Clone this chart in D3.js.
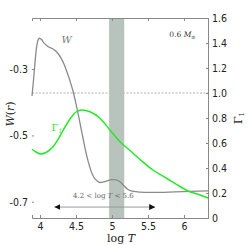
<!DOCTYPE html>
<html>
<head>
<meta charset="utf-8">
<script src="https://cdn.jsdelivr.net/npm/d3@7"></script>
<style>
  body { margin: 0; background: #fff; }
  svg text { font-family: "DejaVu Sans Condensed", "DejaVu Sans", sans-serif; }
  .serif { font-family: "DejaVu Serif", "Liberation Serif", serif !important; }
</style>
</head>
<body>
<div id="chart"></div>
<script>
// W(r) curve
const logT = [3.889, 3.910, 3.931, 3.954, 3.972, 3.993, 4.021, 4.056, 4.111, 4.167,
  4.208, 4.25, 4.292, 4.333, 4.375, 4.417, 4.458, 4.5, 4.542, 4.583,
  4.625, 4.667, 4.708, 4.75, 4.792, 4.833, 4.889, 4.944, 5.0, 5.056,
  5.111, 5.167, 5.222, 5.306, 5.458, 5.667, 5.875, 6.083, 6.333];
const wValues = [-0.381, -0.333, -0.279, -0.231, -0.213, -0.207, -0.211, -0.222, -0.232, -0.238,
  -0.244, -0.253, -0.267, -0.285, -0.309, -0.336, -0.366, -0.405, -0.448, -0.493,
  -0.538, -0.577, -0.607, -0.627, -0.637, -0.642, -0.640, -0.636, -0.633, -0.634,
  -0.640, -0.652, -0.663, -0.669, -0.672, -0.672, -0.670, -0.669, -0.667];

// Gamma_1 curve
const gLogT = [3.889, 3.944, 4.014, 4.083, 4.181, 4.278, 4.347, 4.417, 4.5, 4.583,
  4.694, 4.833, 4.972, 5.111, 5.25, 5.389, 5.569, 5.760, 5.944, 6.056, 6.222, 6.333];
const gamma1 = [0.550, 0.528, 0.512, 0.524, 0.570, 0.656, 0.728, 0.792, 0.848, 0.864,
  0.850, 0.798, 0.704, 0.610, 0.540, 0.468, 0.384, 0.318, 0.252, 0.216, 0.184, 0.160];

const xTicks = [4, 4.5, 5, 5.5, 6];
const wTicks = [-0.3, -0.5, -0.7];
const gTicks = [0, 0.2, 0.4, 0.6, 0.8, 1.0, 1.2, 1.4, 1.6];
const band = [4.96, 5.17];
const arrowRange = [4.2, 5.6];

const width = 249, height = 245;
const margin = { top: 18, right: 41, bottom: 27, left: 32 };
const plotW = width - margin.left - margin.right;
const plotH = height - margin.top - margin.bottom;

const svg = d3.select("#chart").append("svg")
  .attr("width", width)
  .attr("height", height);

const g = svg.append("g")
  .attr("transform", `translate(${margin.left}, ${margin.top})`);

const x = d3.scaleLinear().domain([3.889, 6.333]).range([0, plotW]);
const yW = d3.scaleLinear().domain([-0.749, -0.146]).range([plotH, 0]);
const yG = d3.scaleLinear().domain([0, 1.6]).range([plotH, 0]);

// dashed line at Gamma_1 = 1
g.append("line")
  .attr("x1", 0).attr("x2", plotW)
  .attr("y1", yG(1)).attr("y2", yG(1))
  .attr("stroke", "#b0b0b0")
  .attr("stroke-width", 1)
  .attr("stroke-dasharray", "2,1.5");

// shaded band
g.append("rect")
  .attr("x", x(band[0]))
  .attr("width", x(band[1]) - x(band[0]))
  .attr("y", 0)
  .attr("height", plotH)
  .attr("fill", "#b9c3bd");

// axes
const bottomAxis = d3.axisBottom(x).tickValues(xTicks).tickSize(-3).tickPadding(5)
  .tickFormat(d => d3.format("")(d));
g.append("g")
  .attr("transform", `translate(0, ${plotH})`)
  .call(bottomAxis);

const topAxis = d3.axisTop(x).tickValues(xTicks).tickSize(-3).tickFormat("");
g.append("g").call(topAxis);

const leftAxis = d3.axisLeft(yW).tickValues(wTicks).tickSize(-2).tickPadding(4)
  .tickFormat(d => d.toFixed(1));
const la = g.append("g").call(leftAxis);
la.select(".domain").remove();

const rightAxis = d3.axisRight(yG).tickValues(gTicks).tickSize(-2).tickPadding(4)
  .tickFormat(d => d === 0 ? "0" : d.toFixed(1));
g.append("g")
  .attr("transform", `translate(${plotW}, 0)`)
  .call(rightAxis);

g.selectAll(".domain").attr("stroke", "#888").attr("stroke-width", 1);
g.selectAll(".tick line").attr("stroke", "#888");
g.selectAll(".tick text").attr("font-size", 10.5).attr("fill", "#222");

// curves
const wLine = d3.line()
  .x((d, i) => x(logT[i]))
  .y(d => yW(d))
  .curve(d3.curveMonotoneX);
g.append("path")
  .datum(wValues)
  .attr("d", wLine)
  .attr("fill", "none")
  .attr("stroke", "#8a8a8a")
  .attr("stroke-width", 1.3);

const gLine = d3.line()
  .x((d, i) => x(gLogT[i]))
  .y(d => yG(d))
  .curve(d3.curveMonotoneX);
g.append("path")
  .datum(gamma1)
  .attr("d", gLine)
  .attr("fill", "none")
  .attr("stroke", "#27e827")
  .attr("stroke-width", 1.5);

// curve labels
g.append("text")
  .attr("class", "serif")
  .attr("x", x(4.3)).attr("y", yW(-0.22))
  .attr("font-size", 10).attr("font-style", "italic")
  .attr("fill", "#777")
  .text("W");

const gl = g.append("text")
  .attr("class", "serif")
  .attr("x", x(4.16)).attr("y", yG(0.7))
  .attr("font-size", 10)
  .attr("fill", "#27e827");
gl.append("tspan").text("\u0393");
gl.append("tspan").attr("font-size", 6).attr("dy", 2).text("1");

// mass label
const ml = g.append("text")
  .attr("class", "serif")
  .attr("x", x(6.16)).attr("y", yG(1.45))
  .attr("text-anchor", "end")
  .attr("font-size", 7.5)
  .attr("fill", "#333");
ml.append("tspan").text("0.6 ");
ml.append("tspan").attr("font-style", "italic").text("M");
ml.append("tspan").attr("font-size", 5).attr("dy", 2).text("\u2299");

// double arrow with range text
const defs = svg.append("defs");
defs.append("marker")
  .attr("id", "head")
  .attr("viewBox", "0 0 10 10")
  .attr("refX", 10).attr("refY", 5)
  .attr("markerWidth", 6).attr("markerHeight", 6)
  .attr("markerUnits", "userSpaceOnUse")
  .attr("orient", "auto-start-reverse")
  .append("path")
  .attr("d", "M0,0 L10,5 L0,10 z")
  .attr("fill", "#111");

g.append("line")
  .attr("x1", x(arrowRange[0])).attr("x2", x(arrowRange[1]))
  .attr("y1", yW(-0.716)).attr("y2", yW(-0.716))
  .attr("stroke", "#999")
  .attr("stroke-width", 1)
  .attr("marker-start", "url(#head)")
  .attr("marker-end", "url(#head)");

const rt = g.append("text")
  .attr("class", "serif")
  .attr("x", x(4.88)).attr("y", yW(-0.69))
  .attr("text-anchor", "middle")
  .attr("font-size", 7)
  .attr("fill", "#666");
rt.append("tspan").text("4.2 < log ");
rt.append("tspan").attr("font-style", "italic").text("T");
rt.append("tspan").text(" < 5.6");

// axis titles
const xt = svg.append("text")
  .attr("class", "serif")
  .attr("x", 121).attr("y", 242)
  .attr("text-anchor", "middle")
  .attr("font-size", 11)
  .attr("fill", "#222");
xt.append("tspan").text("log ");
xt.append("tspan").attr("font-style", "italic").text("T");

const yt = svg.append("text")
  .attr("class", "serif")
  .attr("transform", "translate(14, 114) rotate(-90)")
  .attr("text-anchor", "middle")
  .attr("font-size", 11)
  .attr("fill", "#222");
yt.append("tspan").attr("font-style", "italic").text("W");
yt.append("tspan").text("(");
yt.append("tspan").attr("font-style", "italic").text("r");
yt.append("tspan").text(")");

const gt = svg.append("text")
  .attr("class", "serif")
  .attr("transform", "translate(242, 118) rotate(-90)")
  .attr("text-anchor", "middle")
  .attr("font-size", 11)
  .attr("fill", "#222");
gt.append("tspan").text("\u0393");
gt.append("tspan").attr("font-size", 7).attr("dy", 2).text("1");
</script>
</body>
</html>
